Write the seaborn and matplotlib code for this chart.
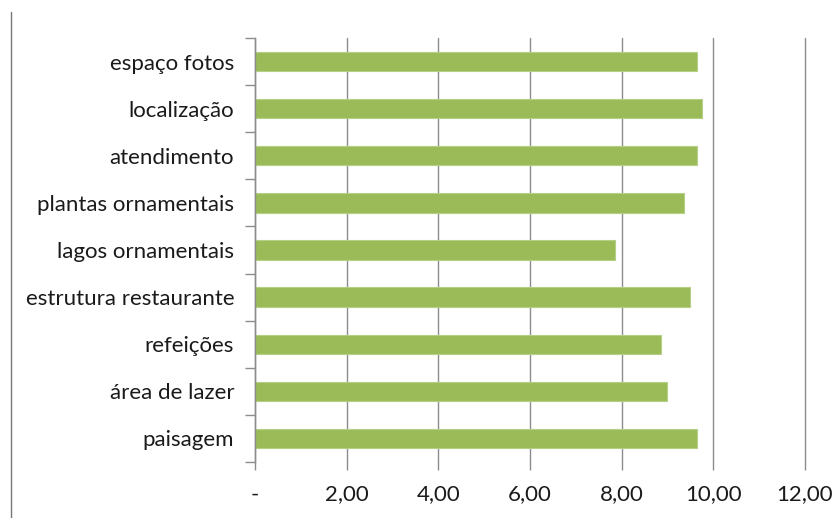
import matplotlib
matplotlib.use("Agg")
import matplotlib.pyplot as plt
import seaborn as sns
import pandas as pd
import numpy as np
from matplotlib.lines import Line2D

# dados
categorias = ["espaço fotos", "localização", "atendimento", "plantas ornamentais",
              "lagos ornamentais", "estrutura restaurante", "refeições",
              "área de lazer", "paisagem"]
notas = [9.64, 9.76, 9.64, 9.35, 7.85, 9.49, 8.86, 8.98, 9.64]
ticks_x = [0, 2, 4, 6, 8, 10, 12]
rotulos_x = ["-", "2,00", "4,00", "6,00", "8,00", "10,00", "12,00"]

df = pd.DataFrame({"item": categorias, "nota": notas})

sns.set_style("white")
plt.rcParams["font.family"] = ["Lato", "DejaVu Sans"]

fig = plt.figure(figsize=(8.36, 5.18), dpi=100)
ax = fig.add_axes([255 / 836, 1 - 462 / 518, 550 / 836, 424 / 518])

sns.barplot(data=df, x="nota", y="item", orient="h", color="#9BBB59",
            saturation=1, width=0.41, edgecolor="#B5CF85", linewidth=0.8, ax=ax)

cinza = "#8C8C8C"
ax.set_xlim(0, 12)
ax.set_ylim(len(categorias) - 0.5, -0.5)
ax.set_xticks(ticks_x)
ax.set_xticklabels(rotulos_x)
ax.set_xlabel("")
ax.set_ylabel("")
ax.grid(axis="x", color=cinza, linewidth=1.0)
for g in ax.get_xgridlines():
    g.set_clip_on(False)
ax.set_axisbelow(True)
for lado in ["top", "right", "bottom"]:
    ax.spines[lado].set_visible(False)
ax.spines["left"].set_color(cinza)
ax.spines["left"].set_linewidth(1.0)

# marcas de divisão entre categorias
ax.set_yticks(np.arange(-0.5, len(categorias)), minor=True)
ax.tick_params(axis="y", which="major", length=0, labelsize=16, pad=15, colors="#1a1a1a")
ax.tick_params(axis="y", which="minor", length=7, width=1, color=cinza, left=True)
ax.tick_params(axis="x", which="major", length=6, width=1, color=cinza, bottom=True,
               labelsize=16, pad=10, labelcolor="#1a1a1a")

# linha vertical à esquerda da imagem
fig.add_artist(Line2D([11 / 836, 11 / 836], [0, 1 - 12 / 518], color="#777777",
                      linewidth=1.0, transform=fig.transFigure))

fig.savefig("out.png", dpi=100)
